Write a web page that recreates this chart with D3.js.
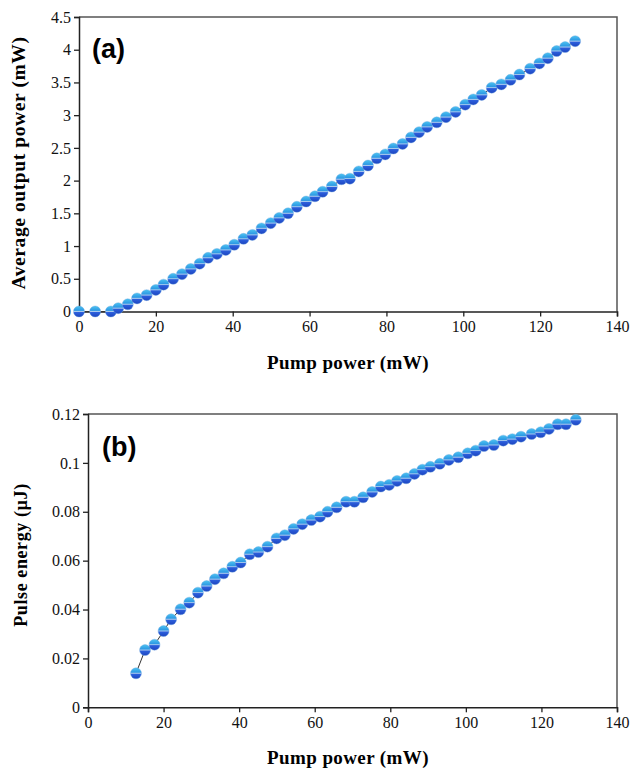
<!DOCTYPE html>
<html>
<head>
<meta charset="utf-8">
<script src="https://cdn.jsdelivr.net/npm/d3@7"></script>
<style>
  body { margin: 0; background: #fff; }
  text { font-family: "Liberation Serif", "Times New Roman", serif; }
</style>
</head>
<body>
<script>
var width = 630,
  height = 769;

// pump power (mW), shared by both panels
var pump = [0, 4.2, 8.3, 10.2, 12.7, 15.1, 17.6, 20, 22, 24.5, 26.8, 29.1, 31.4, 33.6, 35.9, 38.2,
  40.4, 42.8, 45.1, 47.5, 49.9, 52.1, 54.4, 56.7, 59.1, 61.4, 63.4, 65.8, 68.3, 70.5, 72.8, 75.2,
  77.5, 79.7, 81.8, 84.2, 86.4, 88.5, 90.6, 93.1, 95.5, 98, 100.5, 102.6, 104.8, 107.4, 109.9,
  112.3, 114.6, 117.4, 119.8, 122, 124.3, 126.5, 129.1];

// (a) average output power (mW)
var outputPower = [0, 0, 0, 0.05, 0.11, 0.2, 0.25, 0.33, 0.41, 0.5, 0.57, 0.65, 0.73, 0.82, 0.88, 0.94,
  1.02, 1.11, 1.17, 1.27, 1.35, 1.43, 1.5, 1.6, 1.68, 1.76, 1.83, 1.91, 2.02, 2.03, 2.14, 2.23,
  2.34, 2.4, 2.49, 2.56, 2.66, 2.74, 2.82, 2.89, 2.97, 3.05, 3.16, 3.24, 3.31, 3.42, 3.47,
  3.54, 3.62, 3.71, 3.79, 3.87, 3.98, 4.04, 4.13];

// (b) pulse energy (uJ), starts at the 5th pump value
var pulseEnergy = [0.0139, 0.0234, 0.0256, 0.0312, 0.036, 0.0401, 0.0428, 0.0469, 0.0496, 0.0524, 0.0548,
  0.0575, 0.0592, 0.0626, 0.0635, 0.0657, 0.0691, 0.0704, 0.073, 0.0749, 0.0766, 0.078, 0.08, 0.0818,
  0.0841, 0.0841, 0.0859, 0.0881, 0.0903, 0.091, 0.0926, 0.0937, 0.0955, 0.0972, 0.0984, 0.0996,
  0.1012, 0.1023, 0.1039, 0.105, 0.1069, 0.1073, 0.1091, 0.1097, 0.1107, 0.1118, 0.1125, 0.1139,
  0.1158, 0.1158, 0.1176];

var xTicks = [0, 20, 40, 60, 80, 100, 120, 140];
var yTicksA = [0, 0.5, 1, 1.5, 2, 2.5, 3, 3.5, 4, 4.5];
var yTicksB = [0, 0.02, 0.04, 0.06, 0.08, 0.1, 0.12];

var serif = "'Liberation Serif', 'Times New Roman', serif";

var svg = d3.select("body").append("svg")
  .attr("width", width)
  .attr("height", height);

// ball marker gradient
var grad = svg.append("defs").append("linearGradient")
  .attr("id", "ball")
  .attr("x1", 0).attr("y1", 0).attr("x2", 0).attr("y2", 1);
grad.append("stop").attr("offset", "0%").attr("stop-color", "#4cc4f0");
grad.append("stop").attr("offset", "40%").attr("stop-color", "#2e9ae4");
grad.append("stop").attr("offset", "50%").attr("stop-color", "#a9c9ee");
grad.append("stop").attr("offset", "58%").attr("stop-color", "#2c5fdc");
grad.append("stop").attr("offset", "100%").attr("stop-color", "#1d44bf");

function panel(opt) {
  var x = d3.scaleLinear().domain([0, 140]).range([opt.left, 617]);
  var y = d3.scaleLinear().domain([0, opt.yMax]).range([opt.bottom, opt.top]);

  var g = svg.append("g");

  // frame (top & right)
  g.append("path")
    .attr("d", "M" + x(0) + "," + y(opt.yMax) + "H" + x(140) + "V" + y(0))
    .attr("fill", "none")
    .attr("stroke", "#555")
    .attr("stroke-width", 1.5);

  var xAxis = g.append("g")
    .attr("transform", "translate(0," + y(0) + ")")
    .call(d3.axisBottom(x).tickValues(xTicks).tickSize(5).tickPadding(4).tickFormat(d3.format("d")));

  var yAxis = g.append("g")
    .attr("transform", "translate(" + x(0) + ",0)")
    .call(d3.axisLeft(y).tickValues(opt.yTicks).tickSize(5).tickPadding(3).tickFormat(function (d) { return String(d); }));

  [xAxis, yAxis].forEach(function (a) {
    a.attr("font-family", serif).attr("font-size", 16);
    a.select(".domain").attr("stroke", "#222").attr("stroke-width", 1.5);
    a.selectAll(".tick line").attr("stroke", "#222").attr("stroke-width", 1.3);
    a.selectAll(".tick text").attr("fill", "#111");
  });

  var pts = opt.xs.map(function (d, i) { return [d, opt.ys[i]]; });

  g.append("path")
    .datum(pts)
    .attr("fill", "none")
    .attr("stroke", "#333")
    .attr("stroke-width", 1)
    .attr("d", d3.line().x(function (d) { return x(d[0]); }).y(function (d) { return y(d[1]); }));

  g.selectAll("circle")
    .data(pts)
    .enter()
    .append("circle")
    .attr("cx", function (d) { return x(d[0]); })
    .attr("cy", function (d) { return y(d[1]); })
    .attr("r", 5.5)
    .attr("fill", "url(#ball)")
    .attr("stroke", "#6aa4e0")
    .attr("stroke-width", 0.4);

  // panel letter
  g.append("text")
    .attr("x", opt.left + opt.labelDx)
    .attr("y", opt.top + opt.labelDy)
    .attr("font-family", "Arial, 'Liberation Sans', sans-serif")
    .attr("font-weight", "bold")
    .attr("font-size", 27)
    .style("font-family", "'Liberation Sans', Arial, sans-serif")
    .text(opt.label);

  // axis titles
  g.append("text")
    .attr("x", 348)
    .attr("y", opt.xTitleY)
    .attr("text-anchor", "middle")
    .attr("font-weight", "bold")
    .attr("font-size", 19)
    .attr("letter-spacing", 0.4)
    .text("Pump power (mW)");

  g.append("text")
    .attr("transform", "translate(" + opt.yTitleX + "," + opt.yTitleY + ") rotate(-90)")
    .attr("text-anchor", "middle")
    .attr("font-weight", "bold")
    .attr("font-size", opt.yTitleSize)
    .attr("letter-spacing", 0.6)
    .text(opt.yTitle);
}

panel({
  left: 79, top: 17, bottom: 311.5, yMax: 4.5, yTicks: yTicksA,
  xs: pump, ys: outputPower, label: "(a)", labelDx: 13, labelDy: 41,
  xTitleY: 369, yTitleX: 25, yTitleY: 163, yTitle: "Average output power (mW)", yTitleSize: 19.5
});

panel({
  left: 88, top: 414, bottom: 707.3, yMax: 0.12, yTicks: yTicksB,
  xs: pump.slice(4), ys: pulseEnergy, label: "(b)", labelDx: 14, labelDy: 42,
  xTitleY: 764, yTitleX: 27, yTitleY: 555, yTitle: "Pulse energy (\u00b5J)", yTitleSize: 18
});
</script>
</body>
</html>
